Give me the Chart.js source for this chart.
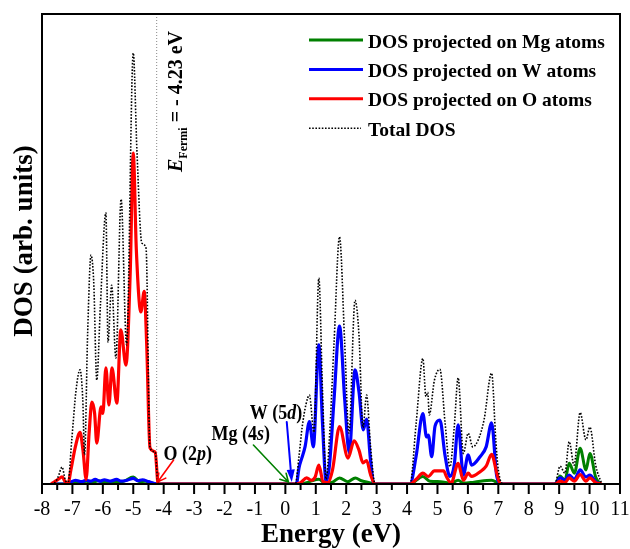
<!DOCTYPE html>
<html>
<head>
<meta charset="utf-8">
<title>DOS</title>
<script src="https://cdn.jsdelivr.net/npm/chart.js@4.4.1/dist/chart.umd.min.js"></script>
<style>
  html, body { margin: 0; padding: 0; background: #fff; }
  #dosChart { display: block; }
</style>
</head>
<body>
<canvas id="dosChart" width="630" height="549"></canvas>
<script>
// Density of states, energies in eV, DOS in arbitrary units (0-10 full scale)
const E_FERMI = -4.23;

const totalEnergy = [-7.70, -7.55, -7.47, -7.34, -7.24, -7.15, -7.02, -6.88, -6.75, -6.66, -6.60, -6.50, -6.39, -6.30, -6.20, -6.08, -5.90, -5.83, -5.71, -5.57, -5.40, -5.22, -5.00, -4.88, -4.72, -4.58, -4.45, -4.28, -4.18,
  0.33, 0.45, 0.55, 0.68, 0.79, 0.94, 1.10, 1.22, 1.34, 1.45, 1.60, 1.78, 1.95, 2.09, 2.29, 2.42, 2.55, 2.67, 2.80, 2.95,
  4.10, 4.30, 4.52, 4.62, 4.68, 4.73, 4.90, 5.08, 5.25, 5.41, 5.55, 5.68, 5.85, 6.01, 6.16, 6.34, 6.53, 6.78, 6.92, 7.00, 7.17,
  8.86, 9.03, 9.19, 9.33, 9.49, 9.69, 9.88, 10.01, 10.20, 10.40];
const totalDos = [0, 0.05, 0.15, 0.36, 0.10, 0, 0.95, 2.00, 2.43, 1.80, 0.62, 3.20, 4.87, 4.30, 2.21, 3.80, 5.77, 3.02, 4.23, 2.68, 6.06, 2.96, 9.17, 7.10, 5.13, 5.02, 0.77, 0.68, 0,
  0, 0.60, 1.20, 1.70, 1.89, 1.10, 4.38, 2.00, 0.10, 1.00, 3.00, 5.26, 3.00, 1.08, 3.91, 3.17, 1.20, 1.89, 0.80, 0,
  0, 1.30, 2.67, 1.86, 1.95, 1.47, 2.21, 2.44, 1.30, 0.37, 1.20, 2.26, 0.65, 1.08, 0.79, 0.94, 1.36, 2.36, 0.90, 0.30, 0,
  0, 0.38, 0.23, 0.90, 0.40, 1.52, 0.94, 1.21, 0.40, 0];

const oEnergy = [-7.70, -7.58, -7.47, -7.34, -7.24, -7.15, -7.05, -6.90, -6.75, -6.65, -6.55, -6.45, -6.36, -6.27, -6.20, -6.06, -6.00, -5.90, -5.80, -5.70, -5.54, -5.41, -5.24, -5.10, -5.00, -4.90, -4.75, -4.64, -4.56, -4.45, -4.28, -4.18,
  0.30, 0.50, 0.70, 0.85, 0.98, 1.10, 1.24, 1.40, 1.55, 1.78, 2.06, 2.26, 2.42, 2.55, 2.67, 2.80, 2.95,
  4.10, 4.30, 4.52, 4.70, 4.90, 5.20, 5.30, 5.45, 5.68, 5.85, 6.01, 6.12, 6.40, 6.60, 6.78, 6.95, 7.05, 7.15,
  8.86, 9.03, 9.19, 9.33, 9.50, 9.69, 9.88, 10.01, 10.20, 10.40];
const oDos = [0, 0.05, 0.10, 0.15, 0.05, 0, 0.30, 0.80, 1.10, 0.70, 0.10, 1.10, 1.74, 1.50, 0.87, 1.64, 1.50, 2.47, 1.68, 2.47, 1.72, 3.28, 2.53, 4.50, 7.04, 5.00, 3.66, 4.10, 3.00, 0.77, 0.68, 0,
  0, 0.03, 0.13, 0.08, 0.15, 0.40, 0.05, 0.03, 0.30, 1.22, 0.55, 0.92, 0.72, 0.45, 0.50, 0.20, 0,
  0, 0.10, 0.23, 0.16, 0.28, 0.28, 0.15, 0.02, 0.44, 0.08, 0.23, 0.16, 0.26, 0.38, 0.63, 0.23, 0.02, 0,
  0, 0.06, 0.03, 0.13, 0.06, 0.20, 0.06, 0.13, 0.03, 0];

const wEnergy = [-7.70, -7.25, -7.10, -6.90, -6.70, -6.55, -6.40, -6.25, -6.10, -5.95, -5.75, -5.55, -5.40, -5.20, -5.00, -4.85, -4.70, -4.50, -4.30, -4.20,
  0.36, 0.45, 0.54, 0.65, 0.79, 0.92, 1.10, 1.22, 1.34, 1.45, 1.60, 1.78, 1.95, 2.10, 2.29, 2.42, 2.56, 2.67, 2.80, 2.91,
  4.10, 4.30, 4.52, 4.64, 4.70, 4.81, 4.92, 5.08, 5.25, 5.41, 5.55, 5.68, 5.85, 6.01, 6.12, 6.40, 6.60, 6.78, 6.95, 7.10,
  8.86, 9.03, 9.19, 9.33, 9.50, 9.69, 9.88, 10.01, 10.20, 10.35];
const wDos = [0, 0, 0.03, 0.08, 0.05, 0.08, 0.06, 0.10, 0.06, 0.09, 0.06, 0.10, 0.06, 0.08, 0.12, 0.07, 0.09, 0.05, 0.01, 0,
  0, 0.35, 0.55, 0.80, 1.33, 0.79, 2.96, 1.30, 0.05, 0.40, 1.80, 3.36, 1.80, 0.66, 2.43, 1.96, 1.15, 1.38, 0.50, 0,
  0, 0.60, 1.50, 1.00, 1.04, 0.58, 1.23, 1.36, 0.60, 0.16, 0.40, 1.26, 0.19, 0.62, 0.40, 0.58, 0.79, 1.30, 0.16, 0,
  0, 0.13, 0.08, 0.19, 0.10, 0.30, 0.15, 0.19, 0.05, 0];

const mgEnergy = [-7.70, -7.10, -6.95, -6.75, -6.55, -6.35, -6.15, -5.95, -5.75, -5.55, -5.30, -5.00, -4.80, -4.60, -4.40, -4.20,
  0.50, 0.80, 1.10, 1.30, 1.55, 1.78, 2.05, 2.30, 2.50, 2.70, 2.95,
  4.10, 4.52, 4.75, 5.10, 5.45, 5.68, 5.85, 6.20, 6.78, 7.00, 7.10,
  8.86, 9.03, 9.19, 9.33, 9.50, 9.69, 9.88, 10.01, 10.20, 10.35];
const mgDos = [0, 0, 0.04, 0.02, 0.06, 0.03, 0.07, 0.03, 0.05, 0.03, 0.06, 0.15, 0.05, 0.06, 0.02, 0,
  0, 0.05, 0.10, 0.02, 0.04, 0.13, 0.05, 0.13, 0.07, 0.04, 0,
  0, 0.16, 0.06, 0.05, 0.02, 0.08, 0.02, 0.04, 0.08, 0.02, 0,
  0, 0.17, 0.08, 0.44, 0.23, 0.76, 0.30, 0.65, 0.15, 0];

const xTickStep = 0.5;
const SERIF = '"Liberation Serif", "Times New Roman", serif';

function toPoints(energy, dos) {
  return energy.map((e, i) => ({ x: e, y: dos[i] }));
}

const legendItems = [
  { text: 'DOS projected on Mg atoms', color: '#008000', dotted: false },
  { text: 'DOS projected on W atoms', color: '#0000ff', dotted: false },
  { text: 'DOS projected on O atoms', color: '#ff0000', dotted: false },
  { text: 'Total DOS', color: '#000000', dotted: true }
];

// text made of plain and italic runs, drawn a bit taller than wide
function drawRuns(ctx, x, y, runs, size) {
  ctx.save();
  ctx.translate(x, y);
  ctx.scale(1, 1.12);
  let cx = 0;
  for (const [text, italic] of runs) {
    ctx.font = (italic ? 'italic ' : '') + 'bold ' + size + 'px ' + SERIF;
    ctx.fillText(text, cx, 0);
    cx += ctx.measureText(text).width;
  }
  ctx.restore();
}

function drawArrow(ctx, x0, y0, x1, y1, color, filled) {
  const ang = Math.atan2(y1 - y0, x1 - x0);
  ctx.save();
  ctx.strokeStyle = color;
  ctx.fillStyle = color;
  ctx.lineCap = 'round';
  if (filled) {
    const len = 13, spread = 0.32;
    ctx.lineWidth = 2;
    ctx.beginPath();
    ctx.moveTo(x0, y0);
    ctx.lineTo(x1 - len * Math.cos(ang), y1 - len * Math.sin(ang));
    ctx.stroke();
    ctx.beginPath();
    ctx.moveTo(x1, y1);
    ctx.lineTo(x1 - len * Math.cos(ang - spread), y1 - len * Math.sin(ang - spread));
    ctx.lineTo(x1 - len * Math.cos(ang + spread), y1 - len * Math.sin(ang + spread));
    ctx.closePath();
    ctx.fill();
  } else {
    const len = 9, spread = 0.5;
    ctx.lineWidth = 1.6;
    ctx.beginPath();
    ctx.moveTo(x0, y0);
    ctx.lineTo(x1, y1);
    ctx.moveTo(x1 - len * Math.cos(ang - spread), y1 - len * Math.sin(ang - spread));
    ctx.lineTo(x1, y1);
    ctx.lineTo(x1 - len * Math.cos(ang + spread), y1 - len * Math.sin(ang + spread));
    ctx.stroke();
  }
  ctx.restore();
}

const decorPlugin = {
  id: 'decor',
  beforeDatasetsDraw(chart) {
    // dotted line at the Fermi level
    const { ctx, chartArea } = chart;
    const fx = chart.scales.x.getPixelForValue(E_FERMI);
    ctx.save();
    ctx.strokeStyle = '#888';
    ctx.lineWidth = 1;
    ctx.setLineDash([1, 2]);
    ctx.beginPath();
    ctx.moveTo(fx, chartArea.top);
    ctx.lineTo(fx, chartArea.bottom);
    ctx.stroke();
    ctx.restore();
  },
  afterDraw(chart) {
    const { ctx, chartArea } = chart;
    const xs = chart.scales.x, ys = chart.scales.y;
    ctx.save();

    // frame
    ctx.strokeStyle = '#000';
    ctx.lineWidth = 2;
    ctx.strokeRect(chartArea.left, chartArea.top, chartArea.right - chartArea.left, chartArea.bottom - chartArea.top);

    // x ticks, longer at whole eV
    ctx.lineWidth = 2;
    ctx.beginPath();
    xs.ticks.forEach(t => {
      const px = xs.getPixelForValue(t.value);
      const len = Number.isInteger(t.value) ? 10 : 6;
      ctx.moveTo(px, chartArea.bottom);
      ctx.lineTo(px, chartArea.bottom + len);
    });
    ctx.stroke();

    // y title
    ctx.fillStyle = '#000';
    ctx.save();
    ctx.translate(25, 241);
    ctx.rotate(-Math.PI / 2);
    ctx.textAlign = 'center';
    ctx.textBaseline = 'middle';
    ctx.font = 'bold 27px ' + SERIF;
    ctx.fillText('DOS (arb. units)', 0, 0);
    ctx.restore();

    // legend
    ctx.textAlign = 'left';
    ctx.textBaseline = 'alphabetic';
    legendItems.forEach((item, i) => {
      const y = 40 + i * 29.4;
      ctx.save();
      ctx.strokeStyle = item.color;
      if (item.dotted) {
        ctx.lineWidth = 1.6;
        ctx.setLineDash([1.6, 1.6]);
        ctx.beginPath();
        ctx.moveTo(309, y);
        ctx.lineTo(361, y);
      } else {
        ctx.lineWidth = 3;
        ctx.beginPath();
        ctx.moveTo(309, y);
        ctx.lineTo(363, y);
      }
      ctx.stroke();
      ctx.restore();
      ctx.font = 'bold 19.5px ' + SERIF;
      ctx.fillText(item.text, 368, y + 7.5);
    });

    // Fermi level label
    const fx = xs.getPixelForValue(E_FERMI) + 25;
    ctx.save();
    ctx.translate(fx, 172);
    ctx.rotate(-Math.PI / 2);
    let cx = 0;
    ctx.font = 'italic bold 20px ' + SERIF;
    ctx.fillText('E', cx, 0);
    cx += ctx.measureText('E').width;
    ctx.font = 'bold 12px ' + SERIF;
    ctx.fillText('Fermi', cx, 5);
    cx += ctx.measureText('Fermi').width;
    ctx.font = 'bold 20px ' + SERIF;
    ctx.fillText(' = - ' + Math.abs(E_FERMI).toFixed(2) + ' eV', cx, 0);
    ctx.restore();

    // band-edge annotations
    const base = ys.getPixelForValue(0) - 2;
    const oTip = xs.getPixelForValue(-4.2);
    drawArrow(ctx, oTip + 16, base - 22, oTip, base, '#ff0000', false);
    drawRuns(ctx, oTip + 6, base - 22, [['O (2', false], ['p', true], [')', false]], 18);

    const mgTip = xs.getPixelForValue(0.1);
    drawArrow(ctx, mgTip - 35, base - 37, mgTip, base, '#008000', false);
    drawRuns(ctx, mgTip - 77, base - 42, [['Mg (4', false], ['s', true], [')', false]], 18);

    const wTip = xs.getPixelForValue(0.21);
    drawArrow(ctx, wTip - 5, base - 60, wTip, base, '#0000ff', true);
    drawRuns(ctx, wTip - 42, base - 63, [['W (5', false], ['d', true], [')', false]], 18);

    ctx.restore();
  }
};

const common = { pointRadius: 0, fill: false, cubicInterpolationMode: 'monotone' };

new Chart(document.getElementById('dosChart'), {
  type: 'line',
  data: {
    datasets: [
      { ...common, label: 'Total DOS', data: toPoints(totalEnergy, totalDos), borderColor: '#000', borderWidth: 1.6, borderDash: [1.6, 1.6] },
      { ...common, label: 'DOS projected on O atoms', data: toPoints(oEnergy, oDos), borderColor: '#ff0000', borderWidth: 3.2 },
      { ...common, label: 'DOS projected on W atoms', data: toPoints(wEnergy, wDos), borderColor: '#0000ff', borderWidth: 3.2 },
      { ...common, label: 'DOS projected on Mg atoms', data: toPoints(mgEnergy, mgDos), borderColor: '#008000', borderWidth: 3 }
    ]
  },
  options: {
    responsive: false,
    animation: false,
    layout: { padding: { left: 42, right: 10, top: 14, bottom: 0 } },
    plugins: { legend: { display: false }, tooltip: { enabled: false } },
    scales: {
      x: {
        type: 'linear',
        min: -8,
        max: 11,
        border: { display: false },
        grid: { display: false, drawTicks: false },
        ticks: {
          stepSize: xTickStep,
          autoSkip: false,
          maxRotation: 0,
          padding: 14,
          color: '#000',
          font: { family: SERIF, size: 20 },
          callback: v => Number.isInteger(v) ? String(v) : ''
        },
        title: {
          display: true,
          text: 'Energy (eV)',
          color: '#000',
          font: { family: SERIF, size: 27, weight: 'bold', lineHeight: 1 },
          padding: { top: 0, bottom: 0 }
        },
        afterFit: s => {
          s.height = 65;
          s.paddingLeft = 0;
          s.paddingRight = 0;
        }
      },
      y: {
        display: false,
        min: 0,
        max: 10
      }
    }
  },
  plugins: [decorPlugin]
});
</script>
</body>
</html>
